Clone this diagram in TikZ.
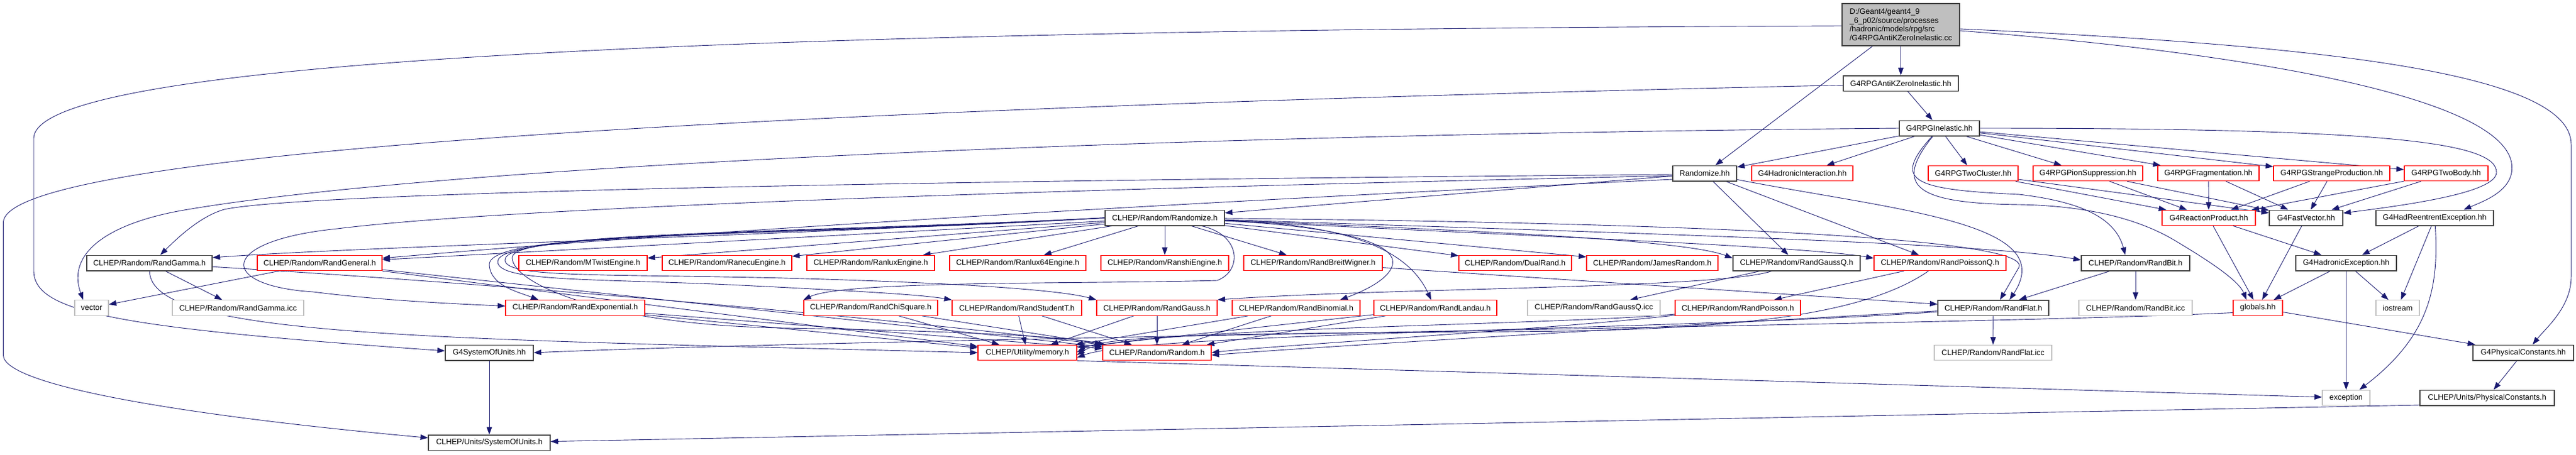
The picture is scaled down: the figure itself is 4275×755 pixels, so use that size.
\documentclass[tikz,border=0pt]{standalone}
\usepackage{fontspec}
\setmainfont{Liberation Sans}
\usetikzlibrary{arrows.meta}
\definecolor{edgec}{HTML}{191970}
\definecolor{bdark}{HTML}{404040}
\definecolor{bred}{HTML}{FF0000}
\definecolor{bgray}{HTML}{BFBFBF}
\pgfdeclarelayer{bg}
\pgfsetlayers{bg,main}
\tikzset{
 nb/.style={rectangle, inner sep=0pt, minimum height=25.5pt, font=\fontsize{12.9pt}{14.6pt}\selectfont, fill=white, text=black},
 kb/.style={nb, draw=bdark, line width=1.5pt},
 rb/.style={nb, draw=bred, line width=1.2pt},
 gb/.style={nb, draw=bgray, line width=1.2pt},
 inc/.style={draw=edgec, line width=0.9pt, -{Triangle[length=12.5pt,width=9pt]}},
}
\begin{document}
\begin{tikzpicture}[x=1pt,y=-1pt]
\useasboundingbox (0,0) rectangle (4275,755);
% row A-C
\node[kb, fill=bgray, minimum width=195pt, minimum height=70pt, align=left] (main) at (3154.5,41) {D:/Geant4/geant4\_9\\\_6\_p02/source/processes\\/hadronic/models/rpg/src\\/G4RPGAntiKZeroInelastic.cc};
\node[kb, minimum width=191pt] (akh) at (3154.5,138.5) {G4RPGAntiKZeroInelastic.hh};
\node[kb, minimum width=133pt] (rgi) at (3218.5,213) {G4RPGInelastic.hh};
% row D
\node[kb, minimum width=106pt] (rzg) at (2829,288) {Randomize.hh};
\node[rb, minimum width=168pt] (hint) at (2991,288) {G4HadronicInteraction.hh};
\node[rb, minimum width=149pt] (tcl) at (3274.5,288) {G4RPGTwoCluster.hh};
\node[rb, minimum width=182pt] (psu) at (3465,288) {G4RPGPionSuppression.hh};
\node[rb, minimum width=168pt] (frag) at (3665,288) {G4RPGFragmentation.hh};
\node[rb, minimum width=193pt] (spr) at (3869.5,288) {G4RPGStrangeProduction.hh};
\node[rb, minimum width=139pt] (tbd) at (4059.5,288) {G4RPGTwoBody.hh};
% row E
\node[kb, minimum width=198pt] (rz) at (1933,362) {CLHEP/Random/Randomize.h};
\node[rb, minimum width=155pt] (rprod) at (3665.5,362) {G4ReactionProduct.hh};
\node[kb, minimum width=122pt] (fvec) at (3827,362) {G4FastVector.hh};
\node[kb, minimum width=195pt] (hre) at (4040.5,362) {G4HadReentrentException.hh};
% row F
\node[kb, minimum width=208pt] (rgam) at (248,437) {CLHEP/Random/RandGamma.h};
\node[rb, minimum width=207pt] (rgen) at (530.5,437) {CLHEP/Random/RandGeneral.h};
\node[rb, minimum width=213pt] (mtw) at (967.5,437) {CLHEP/Random/MTwistEngine.h};
\node[rb, minimum width=215pt] (recu) at (1206.5,437) {CLHEP/Random/RanecuEngine.h};
\node[rb, minimum width=212pt] (rlux) at (1445,437) {CLHEP/Random/RanluxEngine.h};
\node[rb, minimum width=226pt] (rl64) at (1689,437) {CLHEP/Random/Ranlux64Engine.h};
\node[rb, minimum width=212pt] (rshi) at (1933,437) {CLHEP/Random/RanshiEngine.h};
\node[rb, minimum width=230pt] (rbw) at (2179,437) {CLHEP/Random/RandBreitWigner.h};
\node[rb, minimum width=187pt] (dual) at (2514.5,437) {CLHEP/Random/DualRand.h};
\node[rb, minimum width=218pt] (james) at (2742,437) {CLHEP/Random/JamesRandom.h};
\node[kb, minimum width=211pt] (rgq) at (2981.5,437) {CLHEP/Random/RandGaussQ.h};
\node[rb, minimum width=219pt] (rpq) at (3219.5,437) {CLHEP/Random/RandPoissonQ.h};
\node[kb, minimum width=180pt] (rbit) at (3544,437) {CLHEP/Random/RandBit.h};
\node[kb, minimum width=167pt] (hexc) at (3893.5,437) {G4HadronicException.hh};
% row G
\node[gb, minimum width=56pt] (vec) at (152,511.5) {vector};
\node[gb, minimum width=218pt] (rgamicc) at (395,511.5) {CLHEP/Random/RandGamma.icc};
\node[rb, minimum width=231pt] (rexp) at (954.5,511.5) {CLHEP/Random/RandExponential.h};
\node[rb, minimum width=222pt] (rchi) at (1445,511.5) {CLHEP/Random/RandChiSquare.h};
\node[rb, minimum width=215pt] (rstu) at (1687.5,511.5) {CLHEP/Random/RandStudentT.h};
\node[rb, minimum width=200pt] (rgau) at (1920,511.5) {CLHEP/Random/RandGauss.h};
\node[rb, minimum width=212pt] (rbin) at (2151,511.5) {CLHEP/Random/RandBinomial.h};
\node[rb, minimum width=204pt] (rlan) at (2382,511.5) {CLHEP/Random/RandLandau.h};
\node[gb, minimum width=220pt] (rgqicc) at (2645,511.5) {CLHEP/Random/RandGaussQ.icc};
\node[rb, minimum width=208pt] (rpois) at (2884,511.5) {CLHEP/Random/RandPoisson.h};
\node[kb, minimum width=184pt] (rfl) at (3308,511.5) {CLHEP/Random/RandFlat.h};
\node[gb, minimum width=188pt] (rbiticc) at (3544,511.5) {CLHEP/Random/RandBit.icc};
\node[rb, minimum width=82pt] (glob) at (3747,511.5) {globals.hh};
\node[gb, minimum width=72pt] (ios) at (3979,511.5) {iostream};
% row H
\node[kb, minimum width=146pt] (g4sou) at (812,586) {G4SystemOfUnits.hh};
\node[rb, minimum width=164pt] (mem) at (1705,586) {CLHEP/Utility/memory.h};
\node[rb, minimum width=180pt] (rnd) at (1920,586) {CLHEP/Random/Random.h};
\node[gb, minimum width=195pt] (rflicc) at (3307.5,586) {CLHEP/Random/RandFlat.icc};
\node[kb, minimum width=167pt] (g4pc) at (4187.5,586) {G4PhysicalConstants.hh};
% row I-J
\node[gb, minimum width=79pt] (exc) at (3893.5,661) {exception};
\node[kb, minimum width=223pt] (pch) at (4127.5,661) {CLHEP/Units/PhysicalConstants.h};
\node[kb, minimum width=202pt] (sou) at (812,735.5) {CLHEP/Units/SystemOfUnits.h};

\begin{pgfonlayer}{bg}
\fill[white] (0,0) rectangle (4275,755);
% main
\draw[inc] (main) -- (akh);
\draw[inc] (main) -- (rzg);
\draw[inc] ([yshift=-2pt]main.west) .. controls (1200,50) and (56,100) .. (56,230) -- (56,450) .. controls (56,520) and (200,545) .. ([yshift=3pt]g4sou.west);
\draw[inc] ([yshift=-7pt]main.east) .. controls (3850,75) and (4267,120) .. (4267,240) -- (4267,460) .. controls (4267,510) and (4225,545) .. ([xshift=15.5pt]g4pc.north);
\draw[inc] ([yshift=-10pt]main.east) .. controls (3700,85) and (4190,160) .. (4168,287) .. controls (4162,320) and (4120,335) .. ([xshift=48pt]hre.north);
% akh
\draw[inc] (akh) -- (rgi);
\draw[inc] ([yshift=-3pt]akh.west) .. controls (1300,180) and (5.5,250) .. (5.5,370) -- (5.5,590) .. controls (5.5,640) and (300,690) .. ([yshift=8pt]sou.west);
% rgi
\draw[inc] (rgi) -- (rzg);
\draw[inc] (rgi) -- (hint);
\draw[inc] (rgi) -- (tcl);
\draw[inc] (rgi) -- (psu);
\draw[inc] (rgi) -- (frag);
\draw[inc] (rgi) -- (spr);
\draw[inc] (rgi) -- (tbd);
\draw[inc] (rgi.east) .. controls (3950,213) and (4145,235) .. (4143,287) .. controls (4141,320) and (4000,340) .. ([yshift=8pt]fvec.east);
\draw[inc] (rgi) .. controls (3140,300) and (3170,315) .. (3351,323) .. controls (3450,335) and (3510,360) .. ([xshift=-17pt]rbit.north);
\draw[inc] (rgi) .. controls (3140,310) and (3180,338) .. (3351,340) .. controls (3480,342) and (3560,370) .. (3610,400) .. controls (3660,430) and (3715,465) .. ([xshift=-19pt]glob.north);
\draw[inc] (rgi.west) .. controls (1800,225) and (700,280) .. (300,350) .. controls (180,372) and (110,420) .. ([xshift=-14pt]vec.north);
% Randomize.hh
\draw[inc] (rzg) -- (rz);
\draw[inc] (rzg) -- (rgq);
\draw[inc] (rzg) -- (rpq);
\draw[inc] (rzg) .. controls (3150,350) and (3420,370) .. ([xshift=27pt]rfl.north);
\draw[inc] ([yshift=-2pt]rzg.west) .. controls (1500,300) and (500,320) .. (372,348) .. controls (330,360) and (290,400) .. ([xshift=18pt]rgam.north);
\draw[inc] ([yshift=-4pt]rzg.west) .. controls (1500,320) and (800,350) .. (560,380) .. controls (360,400) and (360,475) .. (520,485) .. controls (640,500) and (760,505) .. ([yshift=3pt]rexp.west);
\draw[inc] ([yshift=-10pt]rzg.west) .. controls (2000,335) and (1200,380) .. ([yshift=8pt]rgen.east);
% CLHEP Randomize.h
\draw[inc] (rz.west) .. controls (1200,395) and (600,410) .. ([yshift=9pt]rgam.east);
\draw[inc] (rz) -- (rgen);
\draw[inc] (rz) -- (mtw);
\draw[inc] (rz) -- (recu);
\draw[inc] (rz) -- (rlux);
\draw[inc] (rz) -- (rl64);
\draw[inc] (rz) -- (rshi);
\draw[inc] (rz) -- (rbw);
\draw[inc] (rz) -- (dual);
\draw[inc] (rz) -- (james);
\draw[inc] (rz) .. controls (2500,385) and (2800,400) .. ([yshift=8pt]rgq.west);
\draw[inc] (rz) .. controls (2600,395) and (3000,410) .. ([yshift=8pt]rpq.west);
\draw[inc] (rz) .. controls (2800,390) and (3300,405) .. ([yshift=5pt]rbit.west);
\draw[inc] (rz) .. controls (2800,370) and (3380,395) .. (3350,445) .. controls (3340,462) and (3330,480) .. ([xshift=11pt]rfl.north);
\draw[inc] (rz) .. controls (2200,375) and (2320,400) .. (2311,440) .. controls (2305,465) and (2260,485) .. ([xshift=73pt]rbin.north);
\draw[inc] (rz) .. controls (2200,372) and (2330,400) .. ([xshift=-7pt]rlan.north);
\draw[inc] (rz.west) .. controls (1300,395) and (810,380) .. (812,440) .. controls (814,475) and (860,485) .. ([xshift=-61pt]rexp.north);
\draw[inc] (rz.west) .. controls (1300,392) and (825,385) .. (826,435) .. controls (827,470) and (1000,462) .. (1250,475) .. controls (1450,485) and (1530,490) .. (rstu.north west);
\draw[inc] (rz.west) .. controls (1300,390) and (838,385) .. (838,432) .. controls (838,462) and (1000,455) .. (1300,462) .. controls (1600,470) and (1760,482) .. (rgau.north west);
\draw[inc] (rz.west) .. controls (1300,388) and (850,385) .. (850,428) .. controls (850,470) and (1000,540) .. (1300,545) .. controls (1600,550) and (1780,560) .. (rnd.north west);
\draw[inc] (rz) .. controls (2060,390) and (2062,450) .. (2020,466) .. controls (1800,472) and (1400,466) .. (rchi.north west);
% distributions
\draw[inc] (rgam) -- (rgamicc);
\draw[inc] (rgam) .. controls (250,560) and (700,562) .. (mem.west);
\draw[inc] (rgam) .. controls (800,470) and (1400,520) .. (rnd.north west);
\draw[inc] (rgen) -- (vec);
\draw[inc] (rgen) -- (mem);
\draw[inc] (rgen) -- (rnd);
\draw[inc] (rexp) -- (mem);
\draw[inc] (rexp) -- (rnd);
\draw[inc] (rchi) -- (mem);
\draw[inc] (rchi) -- (rnd);
\draw[inc] (rstu) -- (mem);
\draw[inc] (rstu) -- (rnd);
\draw[inc] (rgau) -- (mem);
\draw[inc] (rgau) -- (rnd);
\draw[inc] (rbin) -- (mem);
\draw[inc] (rbin) -- (rnd);
\draw[inc] (rlan) -- (mem);
\draw[inc] (rlan) -- (rnd);
\draw[inc] (rpois) .. controls (2600,540) and (1850,545) .. ([yshift=-4pt]mem.east);
\draw[inc] (rpois) .. controls (2600,545) and (2100,575) .. (rnd.east);
\draw[inc] (rfl) .. controls (2800,540) and (2200,575) .. ([yshift=-4pt]rnd.east);
\draw[inc] (rfl) .. controls (2800,548) and (1900,552) .. ([yshift=-8pt]mem.east);
\draw[inc] (rpq) -- (rpois);
\draw[inc] (rpq) .. controls (3100,520) and (2900,545) .. (2600,550) .. controls (2200,555) and (1850,550) .. ([yshift=1pt]mem.east);
\draw[inc] (rgq) -- (rgqicc);
\draw[inc] (rgq) .. controls (2850,480) and (2300,478) .. (rgau.north east);
\draw[inc] (rbit) -- (rfl);
\draw[inc] (rbit) -- (rbiticc);
\draw[inc] (rfl) -- (rflicc);
\draw[inc] (rbw) -- (rfl);
% G4 lower part
\draw[inc] (tcl) -- (rprod);
\draw[inc] (tcl) -- (fvec);
\draw[inc] (psu) -- (rprod);
\draw[inc] (psu) -- (fvec);
\draw[inc] (frag) -- (rprod);
\draw[inc] (frag) -- (fvec);
\draw[inc] (spr) -- (rprod);
\draw[inc] (spr) -- (fvec);
\draw[inc] (tbd) -- (rprod);
\draw[inc] (tbd) -- (fvec);
\draw[inc] (rprod) -- (glob);
\draw[inc] (rprod) -- (hexc);
\draw[inc] (fvec) -- (glob);
\draw[inc] (hre) -- (hexc);
\draw[inc] (hre) -- (ios);
\draw[inc] (hre) .. controls (4048,480) and (4030,560) .. ([xshift=22pt]exc.north);
\draw[inc] (hexc) -- (glob);
\draw[inc] (hexc) -- (exc);
\draw[inc] (hexc) -- (ios);
\draw[inc] (glob) -- (g4pc);
\draw[inc] ([yshift=-8pt]glob.west) .. controls (3300,540) and (1500,560) .. (g4sou.east);
\draw[inc] (g4pc) -- (pch);
\draw[inc] ([yshift=-12pt]pch.west) -- (sou);
\draw[inc] (g4sou) -- (sou);
\draw[inc] (mem.south east) -- (exc);
\end{pgfonlayer}
\end{tikzpicture}
\end{document}
